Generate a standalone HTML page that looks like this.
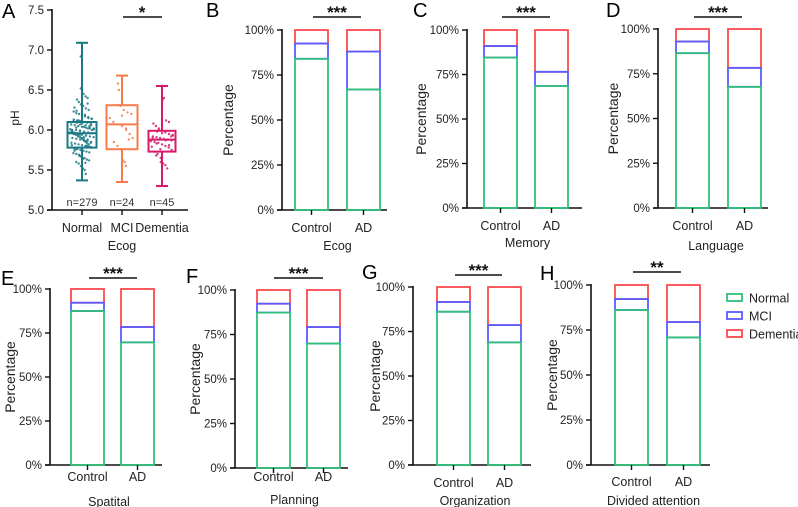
<!DOCTYPE html>
<html><head><meta charset="utf-8">
<style>
html,body{margin:0;padding:0;background:#fff;}
svg{display:block;font-family:"Liberation Sans",Arial,sans-serif;}
</style></head>
<body>
<svg id="fig" width="798" height="507" viewBox="0 0 798 507" xmlns="http://www.w3.org/2000/svg"></svg>
<script>
// ---------- data ----------
const stackCategories = ["Control","AD"];
const stackSeries = ["Normal","MCI","Dementia"];
const yTickLabels = ["0%","25%","50%","75%","100%"];
const yTickValues = [0,25,50,75,100];
// cumulative tops: [normal, normal+MCI] for Control and AD
const ecogControl = [84, 92.5], ecogAD = [67, 88];
const memoryControl = [84.5, 91], memoryAD = [68.5, 76.5];
const languageControl = [86.5, 93], languageAD = [67.7, 78.3];
const spatialControl = [87.5, 92.2], spatialAD = [69.7, 78.4];
const planningControl = [87.3, 92.3], planningAD = [69.9, 79.2];
const organizationControl = [86.1, 91.6], organizationAD = [68.9, 78.6];
const dividedControl = [86.1, 92.2], dividedAD = [70.9, 79.4];

const boxCategories = ["Normal","MCI","Dementia"];
const boxCounts = ["n=279","n=24","n=45"];
const phTickLabels = ["5.0","5.5","6.0","6.5","7.0","7.5"];
const phTickValues = [5.0,5.5,6.0,6.5,7.0,7.5];
// [min, q1, median, q3, max]
const boxNormal = [5.37, 5.78, 5.96, 6.10, 7.09];
const boxMCI = [5.35, 5.76, 6.07, 6.31, 6.68];
const boxDementia = [5.30, 5.73, 5.88, 5.99, 6.55];
const ptsNormal = [5.37,5.45,5.5,5.52,5.55,5.58,5.6,5.62,5.63,5.65,5.66,5.68,5.7,5.71,5.72,5.73,5.74,5.75,5.76,5.77,5.78,5.79,5.8,5.81,5.82,5.83,5.84,5.85,5.86,5.87,5.88,5.89,5.9,5.91,5.92,5.93,5.94,5.95,5.95,5.96,5.96,5.97,5.98,5.99,6.0,6.0,6.01,6.02,6.03,6.04,6.05,6.06,6.07,6.08,6.09,6.1,6.11,6.12,6.13,6.14,6.15,6.17,6.18,6.2,6.21,6.23,6.25,6.27,6.3,6.32,6.35,6.38,6.4,6.42,6.45,6.5,6.52,6.92,7.09,5.79,5.83,5.87,5.91,5.94,5.98,6.02,6.05,5.85,5.9,5.93,5.97,6.01,6.06,5.8,5.88,5.99,6.03,5.74,5.78,5.82,5.86,5.89,5.92,5.95,5.97,6.0,6.02,6.04,6.07,6.09,6.11,6.14,6.16,6.19,6.22,5.69,5.76,5.81,5.84,5.88,5.91,5.94,5.96,5.99,6.01,6.03,6.06,6.08,6.12,6.24,6.28,6.33,5.59,5.64,5.67];
const ptsMCI = [5.35,5.55,5.6,5.62,5.76,5.8,5.85,5.9,5.95,6.0,6.05,6.07,6.1,6.15,6.2,6.22,6.25,6.3,6.5,6.58,6.68,5.88,6.02,6.18];
const ptsDementia = [5.3,5.52,5.56,5.58,5.65,5.7,5.73,5.75,5.78,5.8,5.82,5.84,5.85,5.86,5.87,5.88,5.89,5.9,5.91,5.92,5.93,5.95,5.97,5.99,6.02,6.05,6.08,6.1,6.4,6.55,5.76,5.83,5.9,5.94,5.81,5.87,5.96,6.0,5.68,5.79,5.92,6.12,6.38,5.6,5.98];

// ---------- rendering ----------
const NS = "http://www.w3.org/2000/svg";
const svg = document.getElementById("fig");
const COLORS = ["#2fc07a","#5a5cff","#ff4a4f"];
function mk(tag, attrs, parent, txt){
  const e = document.createElementNS(NS, tag);
  for (const k in attrs) e.setAttribute(k, attrs[k]);
  if (txt !== undefined) e.textContent = txt;
  (parent || svg).appendChild(e);
  return e;
}

const panels = [
 {id:"b", letter:"B", lx:206, ly:17, ax:282, yTop:30, yBot:210, bx:[295,347], bw:33, baseEnd:387, sig:[313,361,17], stars:"***", labY:232, title:"Ecog", titleY:250, pctX:228, ctrl:ecogControl, ad:ecogAD},
 {id:"c", letter:"C", lx:413, ly:17, ax:467, yTop:30, yBot:208, bx:[484,535], bw:33, baseEnd:582, sig:[502,550,17], stars:"***", labY:230, title:"Memory", titleY:247, pctX:421, ctrl:memoryControl, ad:memoryAD},
 {id:"d", letter:"D", lx:606, ly:17, ax:658, yTop:29, yBot:208, bx:[676,728], bw:33, baseEnd:768, sig:[694,742,17], stars:"***", labY:230, title:"Language", titleY:250, pctX:613, ctrl:languageControl, ad:languageAD},
 {id:"e", letter:"E", lx:1, ly:285, ax:50, yTop:289, yBot:465, bx:[71,121], bw:33, baseEnd:162, sig:[89,137,278], stars:"***", labY:481, title:"Spatital", titleY:506, pctX:10, ctrl:spatialControl, ad:spatialAD},
 {id:"f", letter:"F", lx:186, ly:283, ax:235, yTop:290, yBot:468, bx:[257,307], bw:33, baseEnd:348, sig:[274,323,278], stars:"***", labY:481, title:"Planning", titleY:504, pctX:195, ctrl:planningControl, ad:planningAD},
 {id:"g", letter:"G", lx:362, ly:279, ax:413, yTop:287, yBot:465, bx:[437,488], bw:33, baseEnd:531, sig:[455,502,275], stars:"***", labY:487, title:"Organization", titleY:505, pctX:375, ctrl:organizationControl, ad:organizationAD},
 {id:"h", letter:"H", lx:540, ly:280, ax:591, yTop:285, yBot:465, bx:[615,667], bw:33, baseEnd:710, sig:[633,681,272], stars:"**", labY:486, title:"Divided attention", titleY:505, pctX:552, ctrl:dividedControl, ad:dividedAD}
];

function drawStack(p){
  const g = mk("g", {});
  
  
  const y = v => p.yBot - (v/100)*(p.yBot - p.yTop);
  const L = mk("text", {x:p.lx, y:p.ly, "font-size":20}, g, p.letter);
  
  
  const ya = mk("line", {x1:p.ax, y1:p.yTop-1, x2:p.ax, y2:p.yBot, stroke:"#111", "stroke-width":1.6}, g);
  
  
  const xa = mk("line", {x1:p.ax-5, y1:p.yBot, x2:p.baseEnd, y2:p.yBot, stroke:"#111", "stroke-width":1.6}, g);
  
  
  yTickValues.forEach((v,i)=>{
    mk("line", {x1:p.ax-5, y1:y(v), x2:p.ax, y2:y(v), stroke:"#111", "stroke-width":1.4}, g);
    const t = mk("text", {x:p.ax-8, y:y(v)+4, "font-size":11.5, "text-anchor":"end", fill:"#222"}, g, yTickLabels[i]);
    
    
  });
  const cy = (p.yTop+p.yBot)/2;
  const yt = mk("text", {x:p.pctX, y:cy, "font-size":14, "text-anchor":"middle", "dominant-baseline":"central", fill:"#222", transform:`rotate(-90 ${p.pctX} ${cy})`}, g, "Percentage");
  
  
  [p.ctrl, p.ad].forEach((vals, ci)=>{
    const x0 = p.bx[ci], cx = x0 + p.bw/2;
    const bounds = [0, vals[0], vals[1], 100];
    for (let s=2; s>=0; s--){
      const r = mk("rect", {x:x0, y:y(bounds[s+1]), width:p.bw, height:y(bounds[s])-y(bounds[s+1]), fill:"none", stroke:COLORS[s], "stroke-width":1.8}, g);
      
      
    }
    mk("line", {x1:cx, y1:p.yBot, x2:cx, y2:p.yBot+5, stroke:"#111", "stroke-width":1.4}, g);
    const cl = mk("text", {x:cx, y:p.labY, "font-size":12.5, "text-anchor":"middle", fill:"#222"}, g, stackCategories[ci]);
    
    
  });
  const tt = mk("text", {x:(p.ax+p.baseEnd)/2+3, y:p.titleY, "font-size":12.5, "text-anchor":"middle", fill:"#222"}, g, p.title);
  
  
  const sl = mk("line", {x1:p.sig[0], y1:p.sig[2], x2:p.sig[1], y2:p.sig[2], stroke:"#111", "stroke-width":1.6}, g);
  
  
  const st = mk("text", {x:(p.sig[0]+p.sig[1])/2, y:p.sig[2]+1, "font-size":17, "font-weight":"bold", "text-anchor":"middle", fill:"#111"}, g, p.stars);
  
  
}
panels.forEach(drawStack);

// ---------- panel A ----------
(function(){
  const g = mk("g", {});
  
  
  const ax = 52, yTop = 10, yBot = 210;
  const y = v => yBot - (v-5.0)/(7.5-5.0)*(yBot-yTop);
  const L = mk("text", {x:2, y:18, "font-size":20}, g, "A");
  
  
  mk("line", {x1:ax, y1:yTop-1, x2:ax, y2:yBot, stroke:"#111", "stroke-width":1.6}, g);
  mk("line", {x1:ax-5, y1:yBot, x2:188, y2:yBot, stroke:"#111", "stroke-width":1.6}, g);
  phTickValues.forEach((v,i)=>{
    mk("line", {x1:ax-5, y1:y(v), x2:ax, y2:y(v), stroke:"#111", "stroke-width":1.4}, g);
    const t = mk("text", {x:ax-8, y:y(v)+4, "font-size":11.5, "text-anchor":"end", fill:"#222"}, g, phTickLabels[i]);
    
    
  });
  const yt = mk("text", {x:15, y:118, "font-size":12, "text-anchor":"middle", "dominant-baseline":"central", fill:"#222", transform:"rotate(-90 15 118)"}, g, "pH");
  
  
  const centers = [82, 122, 162];
  const widths = [29, 31, 27];
  const cols = ["#1b7884","#f57d4c","#d81a6b"];
  const boxes = [boxNormal, boxMCI, boxDementia];
  const pts = [ptsNormal, ptsMCI, ptsDementia];
  boxes.forEach((b, i)=>{
    const cx = centers[i], w = widths[i], c = cols[i];
    const bg = mk("g", {}, g);
    
    
    pts[i].forEach((v, k)=>{
      const spread = Math.max(2, (w/2-2) * (1 - Math.min(1, Math.abs(v - b[2])/0.8)));
      const off = (((k*37) % 13) / 12 - 0.5) * 2 * spread;
      mk("circle", {cx:cx+off, cy:y(v), r:1.2, fill:c, opacity:0.85}, bg);
    });
    mk("line", {x1:cx, y1:y(b[0]), x2:cx, y2:y(b[1]), stroke:c, "stroke-width":2}, bg);
    mk("line", {x1:cx, y1:y(b[3]), x2:cx, y2:y(b[4]), stroke:c, "stroke-width":2}, bg);
    mk("line", {x1:cx-6, y1:y(b[0]), x2:cx+6, y2:y(b[0]), stroke:c, "stroke-width":2}, bg);
    mk("line", {x1:cx-6, y1:y(b[4]), x2:cx+6, y2:y(b[4]), stroke:c, "stroke-width":2}, bg);
    mk("rect", {x:cx-w/2, y:y(b[3]), width:w, height:y(b[1])-y(b[3]), fill:"none", stroke:c, "stroke-width":2}, bg);
    mk("line", {x1:cx-w/2, y1:y(b[2]), x2:cx+w/2, y2:y(b[2]), stroke:c, "stroke-width":2}, bg);
    mk("line", {x1:cx, y1:yBot, x2:cx, y2:yBot+5, stroke:"#111", "stroke-width":1.4}, g);
    const n = mk("text", {x:cx, y:206, "font-size":11, "text-anchor":"middle", fill:"#333"}, g, boxCounts[i]);
    
    
    const cl = mk("text", {x:cx, y:232, "font-size":12.5, "text-anchor":"middle", fill:"#222"}, g, boxCategories[i]);
    
    
  });
  const tt = mk("text", {x:122, y:250, "font-size":12.5, "text-anchor":"middle", fill:"#222"}, g, "Ecog");
  
  
  const sl = mk("line", {x1:123, y1:17, x2:162, y2:17, stroke:"#111", "stroke-width":1.6}, g);
  
  
  const st = mk("text", {x:142, y:18, "font-size":17, "font-weight":"bold", "text-anchor":"middle", fill:"#111"}, g, "*");
  
  
})();

// ---------- legend ----------
(function(){
  const g = mk("g", {});
  
  
  const ys = [298, 316, 334];
  stackSeries.forEach((s, i)=>{
    const e = mk("g", {}, g);
    
    
    mk("rect", {x:727, y:ys[i]-4, width:15, height:7, fill:"none", stroke:COLORS[i], "stroke-width":1.8}, e);
    mk("text", {x:749, y:ys[i]+4.5, "font-size":12.5, fill:"#222"}, e, s);
  });
})();
</script>
</body></html>
